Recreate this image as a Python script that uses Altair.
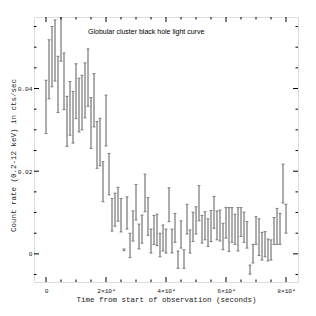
import altair as alt
import pandas as pd

# Time of each bin (seconds from start)
times = [0, 1000, 2000, 3000, 4000, 5000, 6000, 7000, 8000, 9000,
         10000, 11000, 12000, 13000, 14000, 15000, 16000, 17000, 18000, 19000,
         20000, 21000, 22000, 23000, 24000, 25000, 26000, 27000, 28000, 29000,
         30000, 31000, 32000, 33000, 34000, 35000, 36000, 37000, 38000, 39000,
         40000, 41000, 42000, 43000, 44000, 45000, 46000, 47000, 48000, 49000,
         50000, 51000, 52000, 53000, 54000, 55000, 56000, 57000, 58000, 59000,
         60000, 61000, 62000, 63000, 64000, 65000, 66000, 67000, 68000, 69000,
         70000, 71000, 72000, 73000, 74000, 75000, 76000, 77000, 78000, 79000,
         80000]

# Upper end of each error bar (cts/sec)
upper = [0.0420, 0.0518, 0.0550, 0.0566, 0.0478, 0.0620, 0.0486, 0.0381, 0.0417, 0.0393,
         0.0460, 0.0425, 0.0432, 0.0462, 0.0496, 0.0378, 0.0436, 0.0320, 0.0328, 0.0223,
         0.0384, 0.0243, 0.0134, 0.0147, 0.0161, 0.0134, 0.0012, 0.0138, 0.0050, 0.0104,
         0.0168, 0.0072, 0.0094, 0.0193, 0.0136, 0.0060, 0.0093, 0.0096, 0.0050, 0.0070,
         0.0060, 0.0160, 0.0060, 0.0098, 0.0007, 0.0080, 0.0010, 0.0120, 0.0058, 0.0101,
         0.0114, 0.0165, 0.0093, 0.0102, 0.0085, 0.0105, 0.0139, 0.0104, 0.0106, 0.0074,
         0.0112, 0.0112, 0.0112, 0.0096, 0.0112, 0.0112, 0.0101, 0.0078, -0.0027, 0.0023,
         0.0090, 0.0085, 0.0052, 0.0054, 0.0036, 0.0034, 0.0088, 0.0110, 0.0098, 0.0217,
         0.0120]

# Lower end of each error bar (cts/sec)
lower = [0.0291, 0.0375, 0.0404, 0.0418, 0.0342, 0.0466, 0.0349, 0.0260, 0.0287, 0.0268,
         0.0327, 0.0295, 0.0300, 0.0329, 0.0357, 0.0255, 0.0307, 0.0207, 0.0213, 0.0126,
         0.0261, 0.0143, 0.0055, 0.0067, 0.0079, 0.0053, 0.0008, 0.0060, -0.0009, 0.0031,
         0.0082, 0.0012, 0.0026, 0.0102, 0.0045, 0.0002, 0.0023, 0.0020, -0.0007, 0.0007,
         0.0002, 0.0078, 0.0002, 0.0028, -0.0035, 0.0014, -0.0035, 0.0048, 0.0002, 0.0030,
         0.0048, 0.0080, 0.0026, 0.0034, 0.0018, 0.0030, 0.0062, 0.0034, 0.0031, 0.0010,
         0.0038, 0.0006, 0.0028, 0.0023, 0.0007, 0.0042, 0.0028, 0.0014, -0.0049, -0.0022,
         0.0023, -0.0004, -0.0015, -0.0007, -0.0017, -0.0015, 0.0023, 0.0023, 0.0023, 0.0123,
         0.0050]

x_major = [0, 20000, 40000, 60000, 80000]
x_minor = [5000, 10000, 15000, 25000, 30000, 35000, 45000, 50000, 55000,
           65000, 70000, 75000]
y_major = [0.0, 0.02, 0.04]
y_minor = [-0.005, 0.005, 0.01, 0.015, 0.025, 0.03, 0.035, 0.045, 0.05, 0.055]

title_text = "Globular cluster black hole light curve"
x_title = "Time from start of observation (seconds)"
y_title = "Count rate (0.2-12 keV) in cts/sec"

W, H = 264, 265
MONO = "Liberation Mono"
COL = "#5a5a5a"

df = pd.DataFrame({"t": times, "hi": upper, "lo": lower})

xs = alt.Scale(domain=[-4000, 84000], nice=False, zero=False)
ys = alt.Scale(domain=[-0.0068, 0.0573], nice=False, zero=False)

xaxis = alt.Axis(values=x_major, ticks=False, domain=False, grid=False,
                 labelExpr="datum.value == 0 ? '0' : format(datum.value / 10000, 'd') + '×10⁴'",
                 labelFont=MONO, labelFontSize=6.2, labelColor="#222222", labelPadding=5,
                 title=x_title, titleFont=MONO, titleFontSize=7.5, titleFontWeight="normal",
                 titleColor="#222222", titlePadding=2)
yaxis = alt.Axis(values=y_major, ticks=False, domain=False, grid=False,
                 labelExpr="datum.value == 0 ? '0' : format(datum.value, '.2f')",
                 labelFont=MONO, labelFontSize=6.2, labelColor="#222222", labelPadding=2,
                 title=y_title, titleFont=MONO, titleFontSize=7.5, titleFontWeight="normal",
                 titleColor="#222222", titleX=-21, titleY=138, titleAngle=-90,
                 titleAlign="center", titleBaseline="middle")

base = alt.Chart(df)
bars = base.mark_rule(color=COL, strokeWidth=1, clip=True).encode(
    x=alt.X("t:Q", scale=xs, axis=xaxis),
    y=alt.Y("hi:Q", scale=ys, axis=yaxis),
    y2="lo:Q",
)
cap_hi = base.mark_tick(color=COL, orient="horizontal", size=3, thickness=1, clip=True).encode(
    x=alt.X("t:Q", scale=xs), y=alt.Y("hi:Q", scale=ys))
cap_lo = base.mark_tick(color=COL, orient="horizontal", size=3, thickness=1, clip=True).encode(
    x=alt.X("t:Q", scale=xs), y=alt.Y("lo:Q", scale=ys))

xmaj = alt.Chart(pd.DataFrame({"v": x_major}))
xmin = alt.Chart(pd.DataFrame({"v": x_minor}))
ymaj = alt.Chart(pd.DataFrame({"v": y_major}))
ymin = alt.Chart(pd.DataFrame({"v": y_minor}))

def xticks(src, length):
    b = src.mark_rule(color="black", strokeWidth=1).encode(
        x=alt.X("v:Q", scale=xs), y=alt.value(H), y2=alt.value(H - length))
    t = src.mark_rule(color="black", strokeWidth=1).encode(
        x=alt.X("v:Q", scale=xs), y=alt.value(0), y2=alt.value(length))
    return [b, t]

def yticks(src, length):
    l = src.mark_rule(color="black", strokeWidth=1).encode(
        y=alt.Y("v:Q", scale=ys), x=alt.value(0), x2=alt.value(length))
    r = src.mark_rule(color="black", strokeWidth=1).encode(
        y=alt.Y("v:Q", scale=ys), x=alt.value(W), x2=alt.value(W - length))
    return [l, r]

label = alt.Chart(pd.DataFrame({"s": [title_text]})).mark_text(
    align="left", baseline="middle", font="Liberation Sans", fontSize=7, color="black"
).encode(x=alt.value(54), y=alt.value(15), text="s:N")

layers = [bars, cap_hi, cap_lo] + xticks(xmaj, 5) + xticks(xmin, 2.5) + \
    yticks(ymaj, 5) + yticks(ymin, 2.5) + [label]

chart = alt.layer(*layers).properties(
    width=W, height=H,
    autosize=alt.AutoSizeParams(type="none"),
    padding={"left": 26, "top": 9, "right": 10, "bottom": 26},
).configure_view(stroke="black", strokeWidth=1).configure(background="white")

chart.save("out.html", embed_options={"renderer": "svg", "actions": False})
